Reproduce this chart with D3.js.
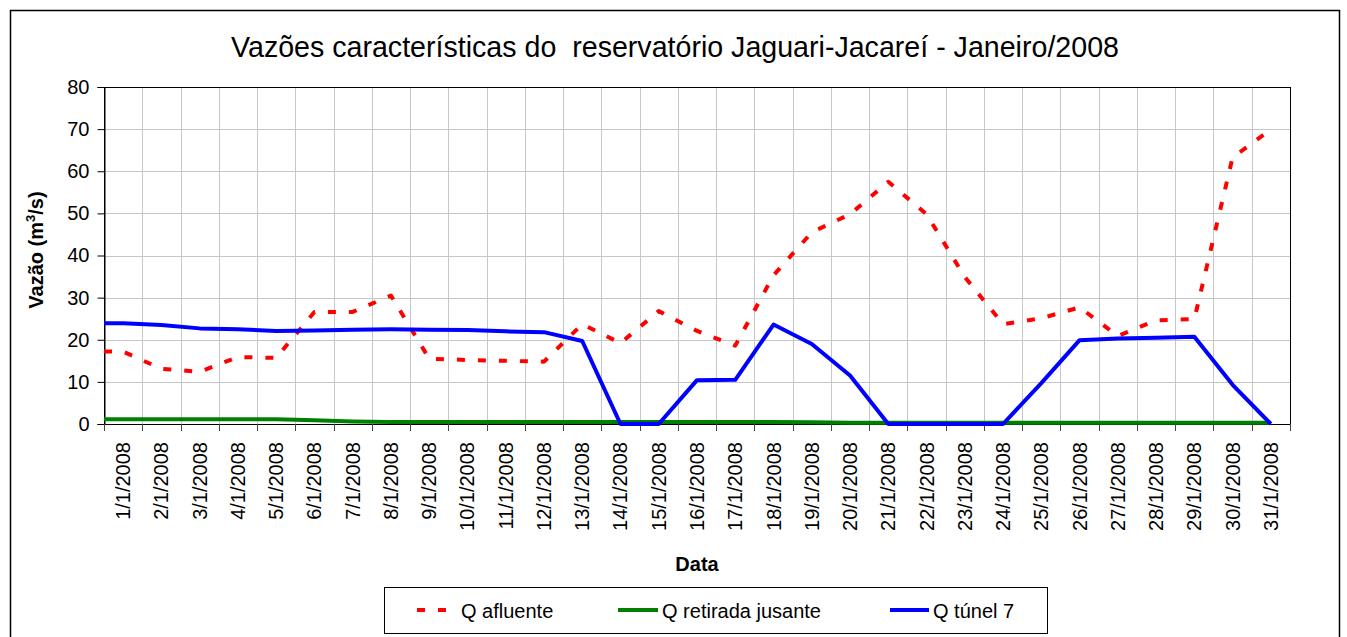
<!DOCTYPE html>
<html>
<head>
<meta charset="utf-8">
<script src="https://cdn.jsdelivr.net/npm/d3@7"></script>
<style>
  html, body { margin: 0; padding: 0; background: #fff; }
  svg { display: block; font-family: "Liberation Sans", Arial, sans-serif; }
</style>
</head>
<body>
<svg id="chart" width="1347" height="637"></svg>
<script>
// ---------- DATA ----------
const chartTitle = "Vazões características do  reservatório Jaguari-Jacareí - Janeiro/2008";
const yAxisTitle = "Vazão (m";
const xAxisTitle = "Data";

const dates = ["1/1/2008","2/1/2008","3/1/2008","4/1/2008","5/1/2008","6/1/2008","7/1/2008",
  "8/1/2008","9/1/2008","10/1/2008","11/1/2008","12/1/2008","13/1/2008","14/1/2008",
  "15/1/2008","16/1/2008","17/1/2008","18/1/2008","19/1/2008","20/1/2008","21/1/2008",
  "22/1/2008","23/1/2008","24/1/2008","25/1/2008","26/1/2008","27/1/2008","28/1/2008",
  "29/1/2008","30/1/2008","31/1/2008"];

const yTicks = [0, 10, 20, 30, 40, 50, 60, 70, 80];

const seriesNames = ["Q afluente", "Q retirada jusante", "Q túnel 7"];

const qAfluente = [17.2, 13.1, 12.4, 15.9, 15.7, 26.6, 26.6, 30.5, 15.5, 15.2, 15.0, 14.8,
  23.7, 19.2, 26.8, 22.1, 18.6, 35.3, 45.5, 49.8, 57.5, 49.8, 34.9, 23.7, 25.1, 27.7,
  20.9, 24.6, 24.9, 63.3, 69.9];

const qRetiradaJusante = [1.1, 1.1, 1.1, 1.1, 1.1, 0.9, 0.6, 0.5, 0.5, 0.5, 0.5, 0.5,
  0.5, 0.5, 0.5, 0.5, 0.5, 0.5, 0.4, 0.3, 0.3, 0.3, 0.3, 0.3, 0.3, 0.3, 0.3, 0.3, 0.3,
  0.3, 0.3];

const qTunel7 = [23.9, 23.5, 22.7, 22.5, 22.1, 22.2, 22.4, 22.5, 22.4, 22.3, 22.0, 21.8,
  19.7, 0, 0, 10.4, 10.5, 23.6, 19.0, 11.5, 0, 0, 0, 0, 9.7, 19.9, 20.3, 20.5, 20.7,
  9.3, 0];

// ---------- STYLE / LAYOUT ----------
const W = 1347, H = 637;
const plot = { left: 104, top: 87, right: 1290, bottom: 424 };
const styles = [
  { color: "#ff0000", dash: "8,13" },
  { color: "#008000", dash: null },
  { color: "#0000ff", dash: null }
];
const seriesValues = [qAfluente, qRetiradaJusante, qTunel7];

const svg = d3.select("#chart");

// outer border
svg.append("rect")
  .attr("x", 10.5).attr("y", 10.5)
  .attr("width", 1329).attr("height", 640)
  .attr("fill", "#fff").attr("stroke", "#000").attr("stroke-width", 1.5);

// title
svg.append("text")
  .attr("x", 675).attr("y", 57)
  .attr("text-anchor", "middle")
  .attr("font-size", 28.6)
  .style("white-space", "pre")
  .attr("xml:space", "preserve")
  .text(chartTitle);

// scales
const x = d3.scaleBand().domain(dates).range([plot.left, plot.right]).padding(0);
const y = d3.scaleLinear().domain([0, 80]).range([plot.bottom, plot.top]);
const cx = d => x(d) + x.bandwidth() / 2;

// horizontal gridlines
svg.append("g").selectAll("line").data(yTicks.filter(v => v > 0)).join("line")
  .attr("x1", plot.left).attr("x2", plot.right)
  .attr("y1", d => Math.round(y(d)) + 0.5).attr("y2", d => Math.round(y(d)) + 0.5)
  .attr("stroke", "#c6c6c6").attr("stroke-width", 1);

// vertical gridlines at category boundaries
const boundaries = dates.map(d => x(d)).concat([plot.right]);
svg.append("g").selectAll("line").data(boundaries.slice(1, -1)).join("line")
  .attr("x1", d => Math.round(d) + 0.5).attr("x2", d => Math.round(d) + 0.5)
  .attr("y1", plot.top).attr("y2", plot.bottom)
  .attr("stroke", "#c6c6c6").attr("stroke-width", 1);

// plot frame
svg.append("rect")
  .attr("x", plot.left + 0.5).attr("y", plot.top + 0.5)
  .attr("width", plot.right - plot.left).attr("height", plot.bottom - plot.top)
  .attr("fill", "none").attr("stroke", "#000").attr("stroke-width", 1);

// y axis
const yAxis = svg.append("g")
  .attr("transform", `translate(${plot.left + 0.5},0)`)
  .call(d3.axisLeft(y).tickValues(yTicks).tickSize(7).tickPadding(8).tickFormat(d3.format("d")));
yAxis.select(".domain").attr("stroke", "#000");
yAxis.selectAll(".tick line").attr("stroke", "#000");
yAxis.selectAll("text").attr("font-size", 20).attr("fill", "#000")
  .attr("font-family", "Liberation Sans, Arial, sans-serif");

// x axis: boundary ticks
svg.append("g").selectAll("line").data(boundaries).join("line")
  .attr("x1", d => Math.round(d) + 0.5).attr("x2", d => Math.round(d) + 0.5)
  .attr("y1", plot.bottom).attr("y2", plot.bottom + 7)
  .attr("stroke", "#444").attr("stroke-width", 1);

// x axis labels (rotated)
const xAxis = svg.append("g")
  .attr("transform", `translate(0,${plot.bottom})`)
  .call(d3.axisBottom(x).tickSize(0).tickPadding(0));
xAxis.select(".domain").remove();
xAxis.selectAll("text")
  .attr("font-size", 20).attr("fill", "#000")
  .attr("font-family", "Liberation Sans, Arial, sans-serif")
  .attr("text-anchor", "end")
  .attr("x", 0).attr("y", 0)
  .attr("dy", "0.35em")
  .attr("transform", "translate(0,18) rotate(-90)");

// y axis title
const yt = svg.append("text")
  .attr("transform", "translate(43,250) rotate(-90)")
  .attr("text-anchor", "middle")
  .attr("font-size", 20).attr("font-weight", "bold");
yt.append("tspan").text(yAxisTitle);
yt.append("tspan").attr("font-size", 13).attr("dy", -8).text("3");
yt.append("tspan").attr("dy", 8).text("/s)");

// x axis title
svg.append("text")
  .attr("x", (plot.left + plot.right) / 2).attr("y", 571)
  .attr("text-anchor", "middle")
  .attr("font-size", 20).attr("font-weight", "bold")
  .text(xAxisTitle);

// series lines (line starts flush at the value axis, as in the reference)
const line = d3.line().x(p => p[0]).y(p => p[1]);
seriesValues.forEach((vals, i) => {
  const pts = [[plot.left, y(vals[0])]].concat(vals.map((v, j) => [cx(dates[j]), y(v)]));
  const path = svg.append("path")
    .attr("d", line(pts))
    .attr("fill", "none")
    .attr("stroke", styles[i].color)
    .attr("stroke-width", 4)
    .attr("stroke-linejoin", "round");
  if (styles[i].dash) path.attr("stroke-dasharray", styles[i].dash).attr("stroke-linecap", "butt");
});

// legend
svg.append("rect")
  .attr("x", 384.5).attr("y", 587.5).attr("width", 663).attr("height", 46)
  .attr("fill", "#fff").attr("stroke", "#000").attr("stroke-width", 1);
const legendPos = [
  { x1: 417, x2: 447, tx: 461 },
  { x1: 618, x2: 658, tx: 662 },
  { x1: 890, x2: 929, tx: 933 }
];
seriesNames.forEach((name, i) => {
  const lp = legendPos[i];
  const l = svg.append("line")
    .attr("x1", lp.x1).attr("x2", lp.x2).attr("y1", 610).attr("y2", 610)
    .attr("stroke", styles[i].color).attr("stroke-width", 4);
  if (styles[i].dash) l.attr("stroke-dasharray", styles[i].dash);
  svg.append("text")
    .attr("x", lp.tx).attr("y", 618)
    .attr("font-size", 20)
    .text(name);
});
</script>
</body>
</html>
